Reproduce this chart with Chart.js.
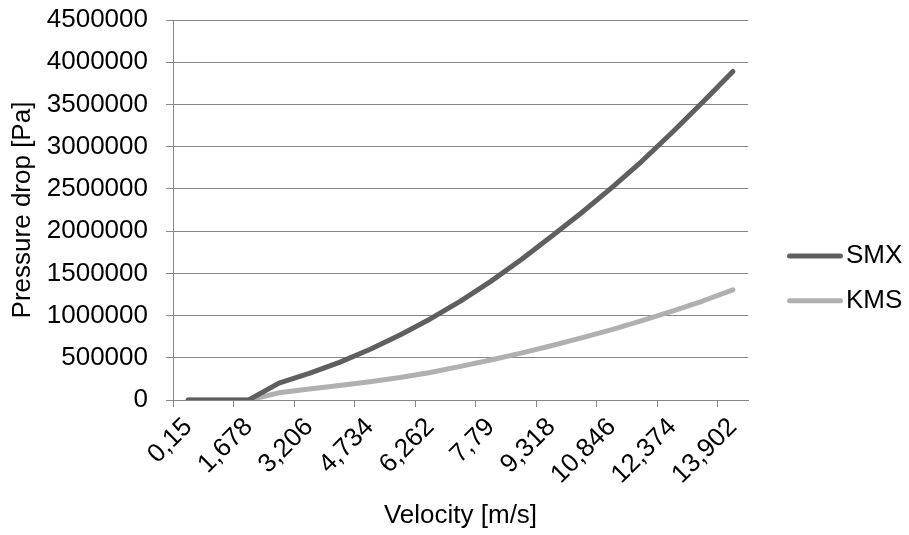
<!DOCTYPE html>
<html>
<head>
<meta charset="utf-8">
<script src="https://cdn.jsdelivr.net/npm/chart.js@4"></script>
<style>
  html, body { margin: 0; padding: 0; background: #ffffff; }
  #wrap { width: 909px; height: 535px; position: relative; }
</style>
</head>
<body>
<div id="wrap"><canvas id="chart"></canvas></div>
<script>
// Velocity categories [m/s]
const velocities = ['0,15', '0,914', '1,678', '2,442', '3,206', '3,97', '4,734', '5,498', '6,262',
  '7,026', '7,79', '8,554', '9,318', '10,082', '10,846', '11,61', '12,374', '13,138', '13,902'];

// Pressure drop [Pa] per mixer type
const smx = [0, 0, 0, 200000, 315000, 445000, 598000, 770000, 960000, 1172000, 1405000, 1660000,
  1935000, 2218000, 2515000, 2830000, 3170000, 3525000, 3890000];
const kms = [0, 0, 0, 85000, 130000, 172000, 216000, 266000, 326000, 398000, 474000, 555000,
  642000, 735000, 834000, 940000, 1053000, 1172000, 1305000];

// Y axis range
const yMin = 0;
const yMax = 4500000;
const yStep = 500000;

const FONT = "'Liberation Sans', Arial, sans-serif";
const GRID = '#878787';

Chart.defaults.font.family = FONT;
Chart.defaults.font.size = 26;
Chart.defaults.color = '#000000';

// Legend drawn to the right of the plot: short line sample then the series name
const sideLegend = {
  id: 'sideLegend',
  afterDraw(chart) {
    const ctx = chart.ctx;
    const x0 = 789.5, x1 = 840.5, textX = 846;
    const firstY = 256, gap = 44.7;
    ctx.save();
    chart.data.datasets.forEach((ds, i) => {
      const y = firstY + i * gap;
      ctx.strokeStyle = ds.borderColor;
      ctx.lineWidth = ds.borderWidth;
      ctx.lineCap = 'round';
      ctx.beginPath();
      ctx.moveTo(x0, y);
      ctx.lineTo(x1, y);
      ctx.stroke();
      ctx.fillStyle = '#000000';
      ctx.font = '26px ' + FONT;
      ctx.textAlign = 'left';
      ctx.textBaseline = 'alphabetic';
      ctx.fillText(ds.label, textX, y + 7);
    });
    ctx.restore();
  }
};

new Chart(document.getElementById('chart'), {
  type: 'line',
  data: {
    labels: velocities,
    datasets: [
      {
        label: 'SMX',
        data: smx,
        borderColor: '#5f5f5f',
        backgroundColor: '#5f5f5f',
        borderWidth: 5,
        borderCapStyle: 'round',
        borderJoinStyle: 'round',
        pointRadius: 0,
        tension: 0,
        fill: false
      },
      {
        label: 'KMS',
        data: kms,
        borderColor: '#b0b0b0',
        backgroundColor: '#b0b0b0',
        borderWidth: 5,
        borderCapStyle: 'round',
        borderJoinStyle: 'round',
        pointRadius: 0,
        tension: 0,
        fill: false
      }
    ]
  },
  options: {
    responsive: true,
    maintainAspectRatio: false,
    animation: false,
    layout: { padding: { left: 0, right: 161, top: 20, bottom: 0 } },
    plugins: {
      legend: { display: false },
      tooltip: { enabled: false }
    },
    scales: {
      x: {
        type: 'category',
        offset: true,
        grid: {
          offset: true,
          drawOnChartArea: false,
          drawTicks: true,
          tickLength: 7,
          color: (c) => (c.index % 2 === 0 ? GRID : 'rgba(0,0,0,0)'),
          lineWidth: 1
        },
        border: { display: true, color: GRID, width: 1 },
        ticks: {
          autoSkip: false,
          minRotation: 45,
          maxRotation: 45,
          padding: 5,
          color: '#000000',
          font: { size: 26 },
          callback: function (value, index) {
            return index % 2 === 0 ? this.getLabelForValue(value) : '';
          }
        },
        title: {
          display: true,
          text: 'Velocity [m/s]',
          color: '#000000',
          font: { size: 26 },
          padding: { top: 0, bottom: 4 }
        },
        afterFit: (scale) => {
          scale.height = 135;
          scale.paddingTop = 0;
          scale.paddingBottom = 0;
        }
      },
      y: {
        min: yMin,
        max: yMax,
        grid: {
          color: GRID,
          lineWidth: 1,
          drawTicks: true,
          tickLength: 7
        },
        border: { display: true, color: GRID, width: 1 },
        ticks: {
          stepSize: yStep,
          padding: 18,
          color: '#000000',
          font: { size: 26 },
          callback: (v) => String(v)
        },
        title: {
          display: true,
          text: 'Pressure drop [Pa]',
          color: '#000000',
          font: { size: 26 },
          padding: { top: 7, bottom: 0 }
        },
        afterFit: (scale) => {
          scale.width = 173;
          scale.paddingTop = 0;
          scale.paddingBottom = 0;
        }
      }
    }
  },
  plugins: [sideLegend]
});
</script>
</body>
</html>
